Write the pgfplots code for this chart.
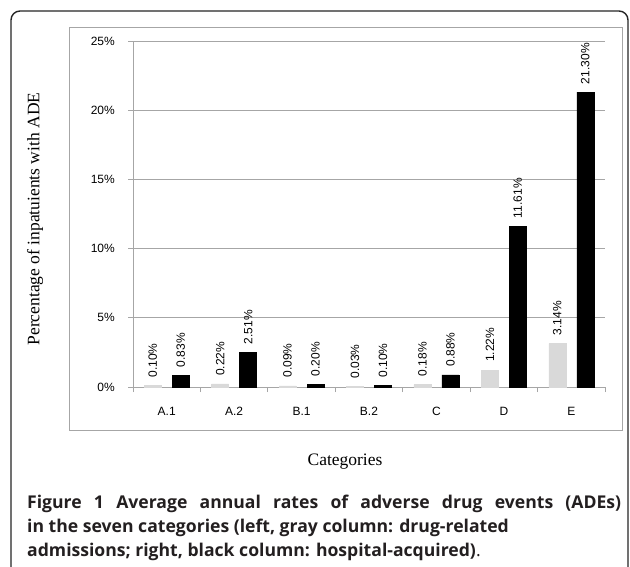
\documentclass[border=0pt]{standalone}
\usepackage{pgfplots}
\pgfplotsset{compat=1.18}
\usepackage{fontspec}
\setmainfont{Liberation Sans}
\newfontfamily\serif{Liberation Serif}
\newfontfamily\capfont{Open Sans}
\definecolor{capc}{HTML}{231F20}
\definecolor{lgray}{HTML}{D9D9D9}
\definecolor{gridc}{HTML}{A6A6A6}
\begin{document}
\begin{tikzpicture}[x=1pt,y=1pt]
\useasboundingbox (0,0) rectangle (630,566);
\clip (0,0) rectangle (630,566);
\fill[white] (0,0) rectangle (630,566);
\draw[line width=1.4pt, rounded corners=9pt, black!85] (11,-30) rectangle (628,555);
\draw[gridc, line width=0.9pt] (69,136) rectangle (622,539);
\begin{axis}[
  at={(133pt,179pt)}, anchor=south west,
  scale only axis, width=472pt, height=346pt,
  xmin=-0.5, xmax=6.5, ymin=0, ymax=25,
  axis lines*=left,
  axis line style={gridc, line width=0.9pt},
  ytick={0,5,10,15,20,25},
  yticklabels={0\%,5\%,10\%,15\%,20\%,25\%},
  ymajorgrids,
  grid style={gridc, line width=0.9pt},
  xtick={0,1,2,3,4,5,6},
  xticklabels={A.1,A.2,B.1,B.2,C,D,E},
  minor xtick={-0.5,0.5,1.5,2.5,3.5,4.5,5.5,6.5},
  major x tick style={draw=none},
  tick align=outside,
  tick style={gridc, line width=0.9pt},
  major tick length=5pt, minor tick length=5pt,
  yticklabel style={font=\fontsize{12}{12}\selectfont, inner sep=0pt, anchor=east, xshift=-13pt},
  xticklabel style={font=\fontsize{12}{12}\selectfont, inner sep=0pt, anchor=north, yshift=-15pt},
  ybar, bar width=17pt,
  point meta=explicit symbolic,
  nodes near coords,
  every node near coord/.append style={rotate=90, anchor=west, inner xsep=8pt, inner ysep=0pt, font=\fontsize{12}{12}\selectfont, black},
  clip=false,
]
\addplot[fill=lgray, draw=lgray, bar shift=-14pt] coordinates {
(0,0.10)[0.10\%] (1,0.22)[0.22\%] (2,0.09)[0.09\%] (3,0.03)[0.03\%] (4,0.18)[0.18\%] (5,1.22)[1.22\%] (6,3.14)[3.14\%]};
\addplot[fill=black, draw=black, bar shift=14pt] coordinates {
(0,0.83)[0.83\%] (1,2.51)[2.51\%] (2,0.20)[0.20\%] (3,0.10)[0.10\%] (4,0.88)[0.88\%] (5,11.61)[11.61\%] (6,21.30)[21.30\%]};
\end{axis}
\node[rotate=90, font=\serif\fontsize{17.5}{17.5}\selectfont] at (35,347) {Percentage of inpatuients with ADE};
\node[font=\serif\fontsize{17.5}{17.5}\selectfont] at (345,104) {Categories};
\begin{scope}[every node/.style={anchor=base west, inner sep=0pt, text=capc, font=\capfont\bfseries\fontsize{17.6}{17.6}\selectfont}]
\node at (27,58) {\makebox[594pt][s]{Figure 1 Average annual rates of adverse drug events (ADEs)}};
\node at (27,34) {in the seven categories (left, gray column: drug-related};
\node at (27,10) {admissions; right, black column: hospital-acquired)\mdseries.};
\end{scope}
\end{tikzpicture}
\end{document}
